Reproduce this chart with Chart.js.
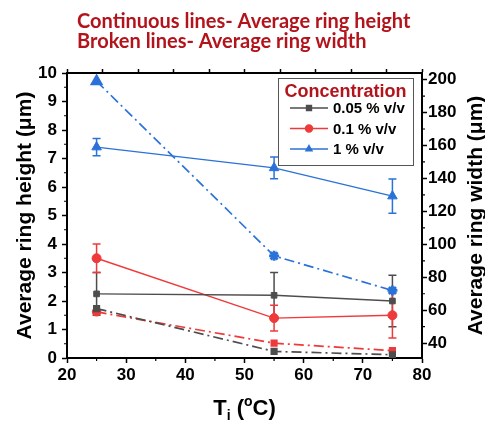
<!DOCTYPE html>
<html>
<head>
<meta charset="utf-8">
<script src="https://cdn.jsdelivr.net/npm/chart.js@4/dist/chart.umd.min.js"></script>
<style>
  html, body { margin: 0; padding: 0; background: #ffffff; }
  #wrap { width: 485px; height: 421px; position: relative; }
</style>
</head>
<body>
<div id="wrap"><canvas id="c" width="485" height="421"></canvas></div>
<script>
// Inlet temperature (°C)
const temperatures = [25, 55, 75];

// Average ring height (µm), solid lines, with ± error
const heightLow  = [2.25, 2.2, 2.0];
const heightLowErr = [0.75, 0.8, 0.9];
const heightMid  = [3.5, 1.4, 1.5];
const heightMidErr = [0.5, 0.45, 0.8];
const heightHigh = [7.4, 6.67, 5.68];
const heightHighErr = [0.3, 0.38, 0.6];

// Average ring width (µm), dash-dot lines
const widthLow  = [61, 35, 33];
const widthMid  = [59, 40, 35.5];
const widthHigh = [199, 93, 72];

// Legend labels
const concentrations = ['0.05 % v/v', '0.1 % v/v', '1 % v/v'];

// Axis tick values
const xTicks = [20, 30, 40, 50, 60, 70, 80];
const heightTicks = [0, 1, 2, 3, 4, 5, 6, 7, 8, 9, 10];
const widthTicks = [40, 60, 80, 100, 120, 140, 160, 180, 200];

const GRAY = '#4d4d4d';
const RED = '#ee3a3a';
const BLUE = '#2a72d8';
const DARKRED = '#b3141c';
const FONT = "'Liberation Sans', Arial, sans-serif";
const DASHDOT = [10, 4, 2, 4];

const toPoints = (ys) => temperatures.map((t, i) => ({ x: t, y: ys[i] }));

function heightSet(label, ys, errs, color, style, radius) {
  return {
    label, data: toPoints(ys), errorBars: errs, yAxisID: 'y',
    borderColor: color, backgroundColor: color, borderWidth: 1.4,
    pointStyle: style, pointRadius: radius, pointBorderWidth: 1,
    pointBackgroundColor: color, pointBorderColor: color, inLegend: true
  };
}
function widthSet(label, ys, color, styles, radius, markerWidth) {
  return {
    label, data: toPoints(ys), yAxisID: 'y2',
    borderColor: color, backgroundColor: color, borderWidth: 1.7,
    borderDash: DASHDOT, pointStyle: styles, pointRadius: radius,
    pointBorderWidth: markerWidth, pointBackgroundColor: color, pointBorderColor: color
  };
}

// Vertical error bars with caps, drawn under the markers
const errorBarPlugin = {
  id: 'errorBars',
  beforeDatasetsDraw(chart) {
    const ctx = chart.ctx;
    chart.data.datasets.forEach((ds) => {
      if (!ds.errorBars) return;
      const ys = chart.scales[ds.yAxisID];
      const xs = chart.scales.x;
      ctx.save();
      ctx.strokeStyle = ds.borderColor;
      ctx.lineWidth = 1.5;
      ds.data.forEach((p, i) => {
        const e = ds.errorBars[i];
        const px = xs.getPixelForValue(p.x);
        const top = ys.getPixelForValue(p.y + e);
        const bot = ys.getPixelForValue(p.y - e);
        ctx.beginPath();
        ctx.moveTo(px, top); ctx.lineTo(px, bot);
        ctx.moveTo(px - 4, top); ctx.lineTo(px + 4, top);
        ctx.moveTo(px - 4, bot); ctx.lineTo(px + 4, bot);
        ctx.stroke();
      });
      ctx.restore();
    });
  }
};

// Short minor ticks between the labelled ones
const minorTickPlugin = {
  id: 'minorTicks',
  afterDraw(chart) {
    const ctx = chart.ctx;
    const { x, y, y2 } = chart.scales;
    ctx.save();
    ctx.strokeStyle = '#000';
    ctx.lineWidth = 1.2;
    ctx.beginPath();
    for (let v = 25; v < 80; v += 10) {
      const px = x.getPixelForValue(v);
      ctx.moveTo(px, x.top); ctx.lineTo(px, x.top + 3);
    }
    for (let v = 0.5; v < 10; v += 1) {
      const py = y.getPixelForValue(v);
      ctx.moveTo(y.right, py); ctx.lineTo(y.right - 3, py);
    }
    for (let v = 50; v < 200; v += 20) {
      const py = y2.getPixelForValue(v);
      ctx.moveTo(y2.left, py); ctx.lineTo(y2.left + 3, py);
    }
    ctx.stroke();
    ctx.restore();
  }
};

// Header text, right axis title, x axis title and the framed legend
const textPlugin = {
  id: 'texts',
  afterDraw(chart) {
    const ctx = chart.ctx;
    const area = chart.chartArea;
    ctx.save();

    // header
    ctx.fillStyle = DARKRED;
    ctx.font = "bold 20px Lato, 'Open Sans', sans-serif";
    ctx.textAlign = 'left';
    ctx.textBaseline = 'alphabetic';
    ctx.fillText('Continuous lines- Average ring height', 77, 28);
    ctx.fillText('Broken lines- Average ring width', 77, 48);

    // right axis title, reading bottom to top
    ctx.fillStyle = '#000';
    ctx.font = 'bold 21px ' + FONT;
    ctx.save();
    ctx.translate(476, (area.top + area.bottom) / 2);
    ctx.rotate(-Math.PI / 2);
    ctx.textAlign = 'center';
    ctx.textBaseline = 'middle';
    ctx.fillText('Average ring width (\u03bcm)', 0, 0);
    ctx.restore();

    // x axis title: T with subscript i, degree as raised o
    const big = 'bold 22px ' + FONT, small = 'bold 14px ' + FONT;
    const parts = [
      { t: 'T', f: big, dy: 0 }, { t: 'i', f: small, dy: 5 },
      { t: ' (', f: big, dy: 0 }, { t: 'o', f: small, dy: -9 },
      { t: 'C)', f: big, dy: 0 }
    ];
    let total = 0;
    parts.forEach(p => { ctx.font = p.f; p.w = ctx.measureText(p.t).width; total += p.w; });
    let cx = (area.left + area.right) / 2 - total / 2;
    ctx.textAlign = 'left';
    ctx.textBaseline = 'alphabetic';
    parts.forEach(p => { ctx.font = p.f; ctx.fillText(p.t, cx, 415 + p.dy); cx += p.w; });

    // legend
    const lx = 278, ly = 78, lw = 135, lh = 87;
    ctx.fillStyle = '#fff';
    ctx.fillRect(lx, ly, lw, lh);
    ctx.strokeStyle = '#555';
    ctx.lineWidth = 1;
    ctx.strokeRect(lx + 0.5, ly + 0.5, lw, lh);
    ctx.fillStyle = DARKRED;
    ctx.font = 'bold 18px ' + FONT;
    ctx.textAlign = 'center';
    ctx.fillText('Concentration', lx + lw / 2, 97);

    const legendSets = chart.data.datasets.filter(d => d.inLegend);
    legendSets.forEach((ds, i) => {
      const base = 113 + i * 20.5;
      const my = base - 5;
      ctx.strokeStyle = ds.borderColor;
      ctx.lineWidth = 1.4;
      ctx.beginPath();
      ctx.moveTo(290, my); ctx.lineTo(328, my);
      ctx.stroke();
      ctx.fillStyle = ds.borderColor;
      Chart.helpers.drawPoint(ctx, { pointStyle: ds.pointStyle, radius: 3.5, borderWidth: 1, rotation: 0 }, 309, my);
      ctx.fillStyle = '#000';
      ctx.font = 'bold 15px ' + FONT;
      ctx.textAlign = 'left';
      ctx.fillText(concentrations[i], 333, base);
    });
    ctx.restore();
  }
};

const tickFont = { family: FONT, size: 17, weight: 'bold' };
const borderOpts = { display: true, color: '#000', width: 2 };

new Chart(document.getElementById('c'), {
  type: 'line',
  data: {
    datasets: [
      widthSet('width ' + concentrations[0], widthLow, GRAY, 'rect', 4, 1.5),
      widthSet('width ' + concentrations[1], widthMid, RED, ['circle', 'rect', 'rect'], 4, 1.5),
      widthSet('width ' + concentrations[2], widthHigh, BLUE, ['triangle', 'star', 'star'], 5, 2.8),
      heightSet(concentrations[0], heightLow, heightLowErr, GRAY, 'rect', 4),
      heightSet(concentrations[1], heightMid, heightMidErr, RED, 'circle', 4.5),
      heightSet(concentrations[2], heightHigh, heightHighErr, BLUE, 'triangle', 5.5)
    ]
  },
  options: {
    responsive: false,
    animation: false,
    layout: { padding: 0 },
    plugins: { legend: { display: false }, tooltip: { enabled: false }, title: { display: false } },
    scales: {
      x: {
        type: 'linear', position: 'bottom', min: 20, max: 80,
        afterBuildTicks: s => { s.ticks = xTicks.map(v => ({ value: v })); },
        ticks: { font: tickFont, color: '#000', padding: 2, maxRotation: 0 },
        grid: { drawOnChartArea: false, tickLength: 5, tickWidth: 1.5, tickColor: '#000' },
        border: borderOpts,
        afterFit: s => { s.height = 63; }
      },
      x2: {
        type: 'linear', position: 'top', min: 0, max: 10,
        ticks: { display: false, stepSize: 1 },
        grid: { drawOnChartArea: false, tickLength: 4, tickWidth: 1.5, tickColor: '#000' },
        border: borderOpts,
        afterFit: s => { s.height = 73; }
      },
      y: {
        type: 'linear', position: 'left', min: 0, max: 10,
        afterBuildTicks: s => { s.ticks = heightTicks.map(v => ({ value: v })); },
        ticks: { font: tickFont, color: '#000', padding: 5 },
        title: { display: true, text: 'Average ring height (\u03bcm)', color: '#000',
                 font: { family: FONT, size: 21, weight: 'bold' }, padding: { top: 13, bottom: 0 } },
        grid: { drawOnChartArea: false, tickLength: 5, tickWidth: 1.5, tickColor: '#000' },
        border: borderOpts,
        afterFit: s => { s.width = 67; }
      },
      y2: {
        type: 'linear', position: 'right', min: 31, max: 204,
        afterBuildTicks: s => { s.ticks = widthTicks.map(v => ({ value: v })); },
        ticks: { font: tickFont, color: '#000', padding: 1 },
        grid: { drawOnChartArea: false, tickLength: 5, tickWidth: 1.5, tickColor: '#000' },
        border: borderOpts,
        afterFit: s => { s.width = 63; }
      }
    }
  },
  plugins: [errorBarPlugin, minorTickPlugin, textPlugin]
});
</script>
</body>
</html>
